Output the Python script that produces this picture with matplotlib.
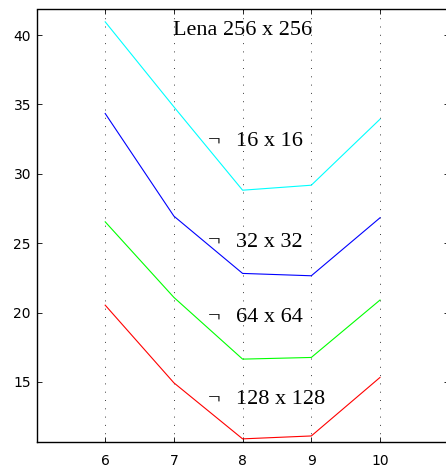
import matplotlib
matplotlib.use("Agg")
import matplotlib.pyplot as plt

x = [6, 7, 8, 9, 10]
s16 = [40.96, 34.83, 28.82, 29.18, 33.94]
s32 = [34.35, 26.95, 22.82, 22.65, 26.83]
s64 = [26.54, 21.09, 16.64, 16.76, 20.90]
s128 = [20.53, 14.93, 10.89, 11.10, 15.32]
series = [s16, s32, s64, s128]
colors = ["#00ffff", "#0000ff", "#00ff00", "#ff0000"]
labels = ["16 x 16", "32 x 32", "64 x 64", "128 x 128"]
label_y = [32.0, 24.74, 19.29, 13.37]
title = "Lena 256 x 256"
xticks = [6, 7, 8, 9, 10]
yticks = [15, 20, 25, 30, 35, 40]

W, H = 446, 468
fig = plt.figure(figsize=(W / 100, H / 100), dpi=100)
ax = fig.add_axes([36.5 / W, (H - 441.5) / H, (448.7 - 36.5) / W, (441.5 - 9.5) / H])

for xt in xticks:
    ax.axvline(xt, color="#444444", lw=0.72, linestyle=(0, (1, 7.3)), zorder=1)

for ys, c in zip(series, colors):
    ax.plot(x, ys, color=c, lw=0.8, zorder=2)

serif = ["Liberation Serif", "DejaVu Serif"]
for lab, ly in zip(labels, label_y):
    ax.text(7.58, ly, "\u00ac", ha="center", va="baseline", fontsize=16, family=serif)
    ax.text(7.905, ly, lab, ha="left", va="baseline", fontsize=16, family=serif)
ax.text(8.0, 40.0, title, ha="center", va="baseline", fontsize=16, family=serif)

ax.set_xlim(5, 11)
ax.set_ylim(10.7, 41.85)
ax.set_xticks(xticks)
ax.set_yticks(yticks)
ax.tick_params(direction="in", length=3.5, width=0.6, top=True, right=True,
               labelsize=10, colors="black")
ax.tick_params(axis="x", pad=9)
ax.tick_params(axis="y", pad=4)
for lab in ax.get_xticklabels() + ax.get_yticklabels():
    lab.set_family("DejaVu Sans")
for sp in ax.spines.values():
    sp.set_linewidth(1.0)

fig.savefig("out.png", dpi=100)
